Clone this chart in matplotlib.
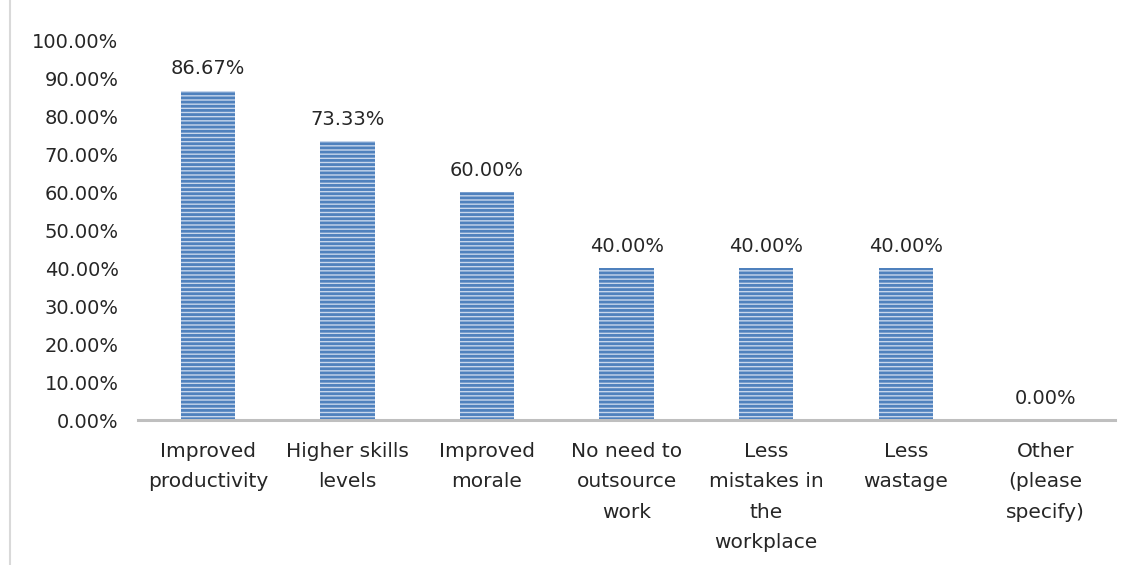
import matplotlib.pyplot as plt
from matplotlib.lines import Line2D
from matplotlib.ticker import FuncFormatter, MultipleLocator

# Benefits of training, share of respondents
categories = [
    'Improved\nproductivity',
    'Higher skills\nlevels',
    'Improved\nmorale',
    'No need to\noutsource\nwork',
    'Less\nmistakes in\nthe\nworkplace',
    'Less\nwastage',
    'Other\n(please\nspecify)',
]
shares = [0.8667, 0.7333, 0.60, 0.40, 0.40, 0.40, 0.0]

STRIPE = '#4f81bd'
LIGHT = '#c8d7ec'
TEXT = '#262626'


def main():
    plt.rcParams['font.family'] = ['DejaVu Sans']
    plt.rcParams['hatch.linewidth'] = 2.0

    fig = plt.figure(figsize=(11.38, 5.65), dpi=100)
    ax = fig.add_axes([0.1213, 0.2566, 0.8587, 0.6726])

    x = range(len(categories))
    # light fill with dense horizontal stripes on top
    bars = ax.bar(x, shares, width=0.39, color=LIGHT, hatch='----',
                  edgecolor=STRIPE, linewidth=0)

    # value labels above each bar
    for rect, v in zip(bars, shares):
        ax.annotate(f'{v:.2%}', (rect.get_x() + rect.get_width() / 2, v),
                    xytext=(0, 9), textcoords='offset points',
                    ha='center', va='bottom', fontsize=14, color=TEXT)

    ax.set_xlim(-0.5, len(categories) - 0.5)
    ax.set_ylim(0, 1.0)
    ax.yaxis.set_major_locator(MultipleLocator(0.1))
    ax.yaxis.set_major_formatter(FuncFormatter(lambda v, _: f'{v:.2%}'))

    ax.set_xticks(list(x))
    ax.set_xticklabels(categories, fontsize=14.5, color=TEXT, linespacing=1.75,
                       va='top')
    ax.tick_params(axis='x', length=0, pad=16)
    ax.tick_params(axis='y', length=0, pad=14, labelsize=14, labelcolor=TEXT)

    for side in ['top', 'right', 'left']:
        ax.spines[side].set_visible(False)
    ax.spines['bottom'].set_color('#bfbfbf')
    ax.spines['bottom'].set_linewidth(2.2)

    # thin border along the left of the chart area
    fig.add_artist(Line2D([0.009, 0.009], [0, 1], transform=fig.transFigure,
                          color='#d9d9d9', lw=1.5))

    plt.savefig('out.png', dpi=100)


if __name__ == '__main__':
    main()
